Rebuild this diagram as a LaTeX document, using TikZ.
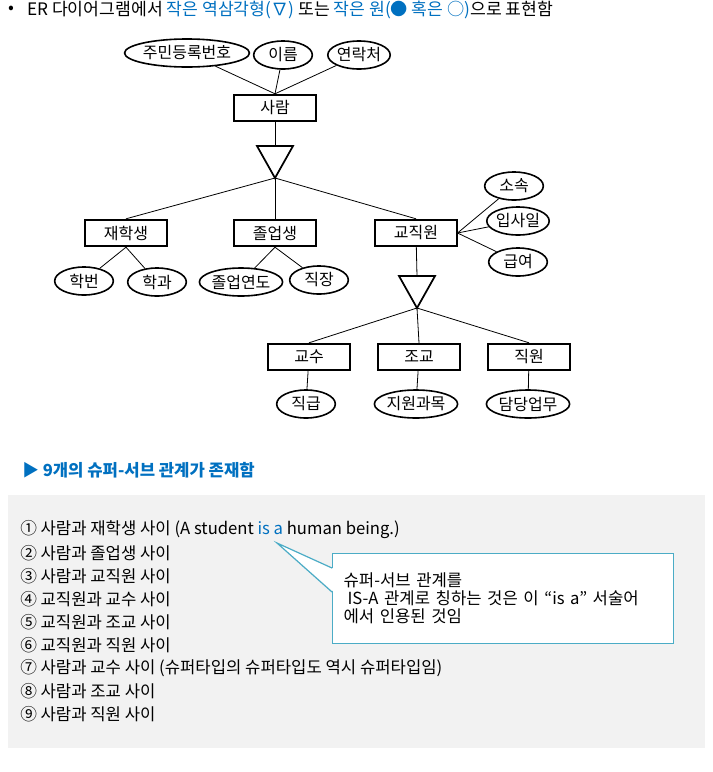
\documentclass[tikz,border=0pt]{standalone}
\usepackage{fontspec}
\setmainfont{Noto Sans CJK KR}
\usetikzlibrary{positioning,shapes.geometric,calc}

\definecolor{isablue}{RGB}{0,112,192}
\definecolor{calloutline}{RGB}{75,172,198}
\definecolor{boxgray}{RGB}{242,242,242}

\tikzset{
  entity/.style={draw,line width=1.3pt,minimum width=61pt,minimum height=20pt,inner sep=0pt,font=\fontsize{12}{14}\selectfont},
  attr/.style={draw,ellipse,line width=1.2pt,minimum width=44pt,minimum height=21pt,inner sep=0pt,font=\fontsize{12}{14}\selectfont},
  link/.style={line width=0.6pt},
  listitem/.style={anchor=west,inner sep=0pt,font=\fontsize{12.5}{14}\selectfont}
}

\begin{document}
\begin{tikzpicture}[x=0.75pt,y=-0.75pt]

\newcommand\isatriangle[2]
{
    \coordinate (#2-top) at (#1);
    \coordinate (#2-tip) at ($(#1)+(0,32)$);
    \draw [line width=1.3pt] ($(#1)+(-18,0)$) -- ($(#1)+(18,0)$) -- (#2-tip) -- cycle;
}

\useasboundingbox (0,0) rectangle (713,772);

\node (bullet) [anchor=west,inner sep=0pt,font=\fontsize{12.9}{15}\selectfont] at (8,10) {•};
\node (intro) [anchor=west,inner sep=0pt,font=\fontsize{12.9}{15}\selectfont] at (27,10) {ER 다이어그램에서 \textcolor{isablue}{작은 역삼각형(∇)} 또는 \textcolor{isablue}{작은 원(● 혹은 ○)}으로 표현함};

% supertype
\node (person) [entity] at (275,108) {사람};
\node (regno) [attr] at (187,53) {주민등록번호};
\node (name) [attr] at (283,55) {이름};
\node (phone) [attr] at (359,55) {연락처};
\foreach \a in {regno,name,phone}
    \draw [link] (\a) -- (person.north);

\isatriangle{275,146}{isa1}
\draw [link] (person) -- (isa1-top);

\node (student) [entity] at (126,233) {재학생};
\node (graduate) [entity] at (275,233) {졸업생};
\node (employee) [entity] at (416,233) {교직원};
\foreach \s in {student,graduate,employee}
    \draw [link] (isa1-tip) -- (\s.north);

\node (studentno) [attr] at (84,281) {학번};
\node (major) [attr] at (157,282) {학과};
\node (gradyear) [attr] at (241,282) {졸업연도};
\node (workplace) [attr] at (319,280) {직장};
\draw [link] (student.south) -- (studentno);
\draw [link] (student.south) -- (major);
\draw [link] (graduate.south) -- (gradyear);
\draw [link] (graduate.south) -- (workplace);

\node (dept) [attr] at (514,186) {소속};
\node (hiredate) [attr] at (518,221) {입사일};
\node (salary) [attr] at (518,262) {급여};
\foreach \a in {dept,hiredate,salary}
    \draw [link] (employee.east) -- (\a);

% subtypes of employee
\isatriangle{417,276}{isa2}
\draw [link] (employee) -- (isa2-top);

\node (professor) [entity] at (309,357) {교수};
\node (assistant) [entity] at (419,357) {조교};
\node (clerk) [entity] at (529,357) {직원};
\foreach \s in {professor,assistant,clerk}
    \draw [link] (isa2-tip) -- (\s.north);

\node (rank) [attr] at (306,404) {직급};
\node (subject) [attr] at (416,404) {지원과목};
\node (duty) [attr] at (528,404) {담당업무};
\draw [link] (professor) -- (rank);
\draw [link] (assistant) -- (subject);
\draw [link] (clerk) -- (duty);

% list of relations
\node (heading) [anchor=west,inner sep=0pt,text=isablue,font=\bfseries\fontsize{12.5}{14}\selectfont] at (22,470) {▶ 9개의 슈퍼-서브 관계가 존재함};
\fill [boxgray] (8,495) rectangle (705,748);

\foreach \t [count=\i] in {%
    ① 사람과 재학생 사이 (A student \textcolor{isablue}{is a} human being.),
    ② 사람과 졸업생 사이,
    ③ 사람과 교직원 사이,
    ④ 교직원과 교수 사이,
    ⑤ 교직원과 조교 사이,
    ⑥ 교직원과 직원 사이,
    ⑦ 사람과 교수 사이 (슈퍼타입의 슈퍼타입도 역시 슈퍼타입임),
    ⑧ 사람과 조교 사이,
    ⑨ 사람과 직원 사이}
    \node (item\i) [listitem] at (20,{507+23*\i}) {\t};

\node (note) [draw=calloutline,fill=white,line width=0.9pt,anchor=north west,text width=239pt,minimum height=67.5pt,inner xsep=8.25pt,align=left,font=\fontsize{12.5}{13.5}\selectfont] at (332,553) {슈퍼-서브 관계를\\\hspace*{3pt}IS-A 관계로 칭하는 것은 이 “is a” 서술어\\에서 인용된 것임};
\coordinate (isatip) at (277,543);
\fill [white] (isatip) -- ($(note.north west)+(1.2,15.5)$) -- ($(note.north west)+(1.2,38.5)$) -- cycle;
\draw [calloutline,line width=0.9pt] ($(note.north west)+(0,15)$) -- (isatip) -- ($(note.north west)+(0,39)$);

\end{tikzpicture}
\end{document}
